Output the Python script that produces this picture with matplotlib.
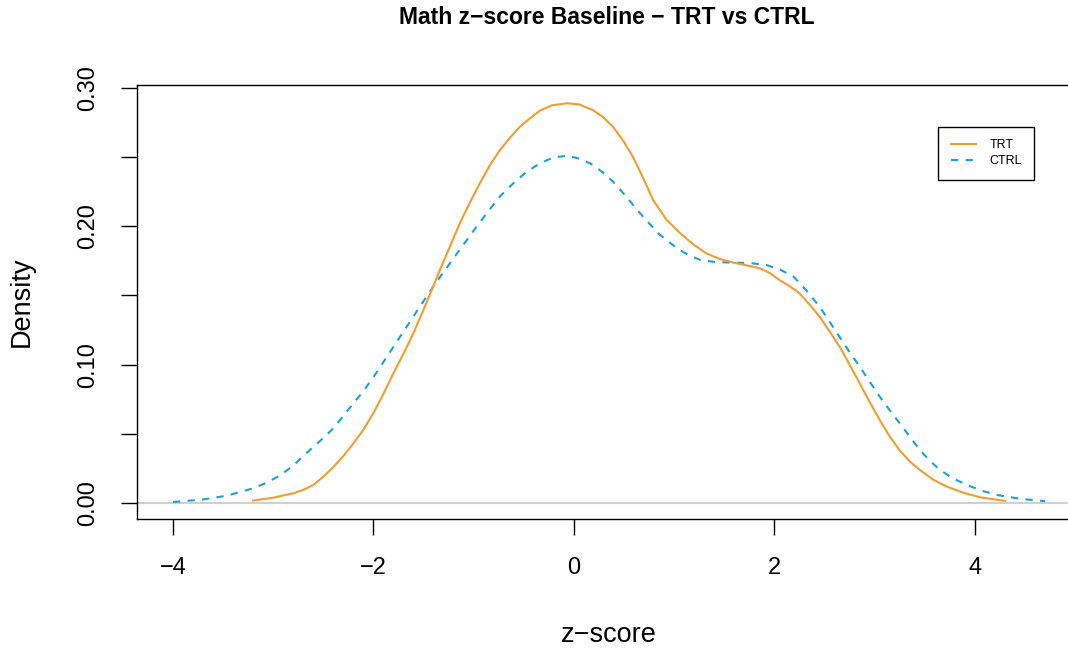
import matplotlib
matplotlib.use("Agg")
from matplotlib import pyplot as plt

# density curves
trt_x = [-3.2, -3.0, -2.8, -2.7, -2.6, -2.5, -2.4, -2.3, -2.2, -2.1, -2.0, -1.9, -1.8, -1.7,
         -1.6, -1.47, -1.34, -1.24, -1.14, -1.04, -0.94, -0.84, -0.74, -0.64, -0.54, -0.44,
         -0.34, -0.22, -0.07, 0.05, 0.19, 0.29, 0.39, 0.49, 0.59, 0.69, 0.79, 0.92, 1.06,
         1.19, 1.32, 1.45, 1.59, 1.72, 1.855, 1.955, 2.055, 2.15, 2.25, 2.35, 2.45, 2.55,
         2.65, 2.75, 2.85, 2.95, 3.05, 3.15, 3.25, 3.35, 3.45, 3.58, 3.72, 3.88, 4.05, 4.3]
trt_y = [0.0017, 0.0038, 0.0070, 0.0095, 0.013, 0.019, 0.026, 0.034, 0.043, 0.053, 0.065,
         0.079, 0.094, 0.108, 0.123, 0.145, 0.168, 0.185, 0.202, 0.217, 0.231, 0.244, 0.255,
         0.264, 0.272, 0.278, 0.2837, 0.2875, 0.289, 0.2882, 0.284, 0.279, 0.272, 0.262,
         0.250, 0.235, 0.219, 0.205, 0.195, 0.187, 0.1805, 0.1765, 0.1738, 0.1718, 0.1697,
         0.1662, 0.161, 0.1568, 0.1516, 0.1435, 0.1347, 0.124, 0.113, 0.100, 0.0865, 0.073,
         0.060, 0.048, 0.038, 0.030, 0.0239, 0.017, 0.0118, 0.0075, 0.0041, 0.0015]

ctrl_x = [-4.0, -3.7, -3.46, -3.2, -3.06, -2.93, -2.8, -2.67, -2.53, -2.4, -2.3, -2.2, -2.1,
          -2.0, -1.9, -1.8, -1.7, -1.6, -1.5, -1.37, -1.24, -1.12, -1.0, -0.87, -0.74, -0.6,
          -0.47, -0.34, -0.21, -0.07, 0.05, 0.16, 0.28, 0.39, 0.51, 0.63, 0.74, 0.84, 0.95,
          1.05, 1.15, 1.26, 1.42, 1.59, 1.75, 1.92, 2.05, 2.19, 2.27, 2.36, 2.45, 2.55, 2.65,
          2.75, 2.85, 2.95, 3.05, 3.15, 3.25, 3.35, 3.45, 3.55, 3.65, 3.78, 3.92, 4.07, 4.22,
          4.45, 4.7]
ctrl_y = [0.0007, 0.0025, 0.0053, 0.0106, 0.0148, 0.020, 0.027, 0.036, 0.045, 0.054, 0.063,
          0.072, 0.081, 0.091, 0.102, 0.113, 0.124, 0.135, 0.146, 0.160, 0.173, 0.185, 0.197,
          0.2095, 0.2215, 0.2315, 0.2396, 0.2455, 0.2497, 0.2511, 0.249, 0.2456, 0.2395,
          0.2323, 0.2225, 0.2119, 0.2030, 0.195, 0.1885, 0.183, 0.179, 0.1757, 0.1741,
          0.1738, 0.1735, 0.172, 0.169, 0.1636, 0.1576, 0.150, 0.142, 0.131, 0.120, 0.109,
          0.0986, 0.0877, 0.0769, 0.067, 0.0576, 0.048, 0.0383, 0.0305, 0.0239, 0.0178,
          0.013, 0.0088, 0.0058, 0.003, 0.0013]

x_ticks = [-4, -2, 0, 2, 4]
y_ticks = [0.0, 0.05, 0.10, 0.15, 0.20, 0.25, 0.30]
y_labels = ["0.00", "", "0.10", "", "0.20", "", "0.30"]

plt.rcParams["font.family"] = ["Liberation Sans", "DejaVu Sans"]

W, H = 1068, 649
fig = plt.figure(figsize=(W / 100, H / 100), dpi=100)
left, right, top, bottom = 137, 1080, 85, 519
ax = fig.add_axes([left / W, 1 - bottom / H, (right - left) / W, (bottom - top) / H])

ax.axhline(0, color="#d0d0d0", lw=1.5, zorder=1)
ax.plot(trt_x, trt_y, color="#F39C32", lw=1.5, label="TRT", zorder=3)
ax.plot(ctrl_x, ctrl_y, color="#1AA1DB", lw=1.5, linestyle=(0, (3.5, 3.5)),
        label="CTRL", zorder=2)

ax.set_xlim(-4.359, 5.048)
ax.set_ylim(-0.0116, 0.3022)

ax.set_xticks(x_ticks)
ax.set_xticklabels([str(t).replace("-", "\u2212") for t in x_ticks])
ax.set_yticks(y_ticks)
ax.set_yticklabels(y_labels, rotation=90, va="center")

ax.tick_params(direction="out", length=11.5, width=1.0, color="black",
               labelsize=17, pad=16)
for s in ax.spines.values():
    s.set_linewidth(1.0)
    s.set_color("black")

ax.set_xlabel("z\u2212score", fontsize=19.5, labelpad=31)
ax.set_ylabel("Density", fontsize=19.5, labelpad=30)
fig.text(607 / W, 1 - 18 / H, "Math z\u2212score Baseline \u2212 TRT vs CTRL",
         ha="center", va="center", fontsize=16.5, fontweight="bold")

leg = ax.legend(loc="upper left", bbox_to_anchor=(938 / W, 1 - 127 / H),
                bbox_transform=fig.transFigure, fontsize=9, frameon=True,
                fancybox=False, edgecolor="black", framealpha=1, borderaxespad=0,
                handlelength=2.0, borderpad=1.0, labelspacing=0.3, handletextpad=1.1)
leg.get_frame().set_linewidth(1.0)

fig.savefig("out.png", dpi=100)
